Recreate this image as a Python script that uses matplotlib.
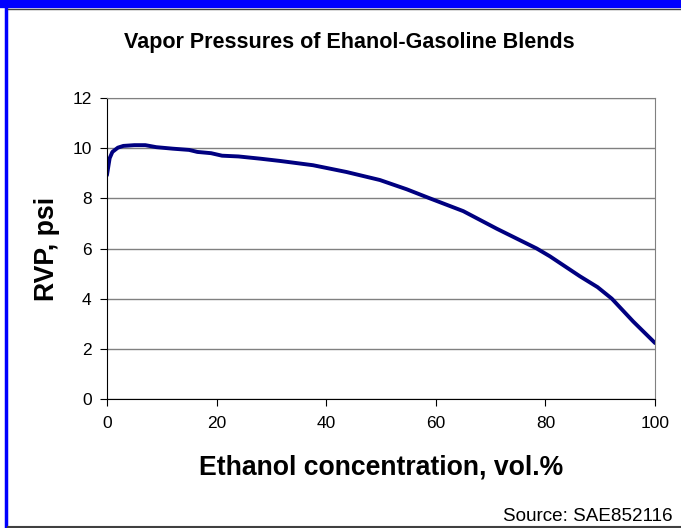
import matplotlib.pyplot as plt
from matplotlib.lines import Line2D

# RVP vs ethanol content
ethanol = [0, 0.5, 1, 2, 3, 5, 7, 9, 12, 15, 16.5, 19, 21, 24, 28, 31.6,
           37.6, 43.7, 49.8, 54.7, 58.9, 65, 71.1, 78.4, 80.8, 86.3, 89.5,
           92.1, 96, 100]
rvp = [8.92, 9.6, 9.85, 10.02, 10.09, 10.12, 10.12, 10.04, 9.98, 9.93, 9.85,
       9.8, 9.7, 9.67, 9.58, 9.49, 9.32, 9.05, 8.73, 8.36, 8.0, 7.49, 6.79,
       6.0, 5.69, 4.89, 4.46, 4.0, 3.09, 2.23]
x_ticks = [0, 20, 40, 60, 80, 100]
y_ticks = [0, 2, 4, 6, 8, 10, 12]

plt.rcParams['font.family'] = ['Liberation Sans', 'DejaVu Sans']

fig = plt.figure(figsize=(6.81, 5.28), dpi=100)
ax = fig.add_axes([0.157, 0.2443, 0.805, 0.5701])

ax.plot(ethanol, rvp, color='#000080', linewidth=2.8, solid_capstyle='round')

ax.set_xlim(0, 100)
ax.set_ylim(0, 12)
ax.set_xticks(x_ticks)
ax.set_yticks(y_ticks)
ax.tick_params(labelsize=12.5, direction='out', length=5, width=0.8, pad=6)
ax.tick_params(axis='x', pad=7)
ax.yaxis.grid(True, color='#808080', linewidth=1)
ax.set_axisbelow(True)
ax.spines['top'].set_color('#808080')
ax.spines['right'].set_color('#808080')

ax.set_xlabel('Ethanol concentration, vol.%', fontsize=19.2, fontweight='bold', labelpad=17)
ax.set_ylabel('RVP, psi', fontsize=19.2, fontweight='bold', labelpad=9)

fig.text(0.5125, 0.92, 'Vapor Pressures of Ehanol-Gasoline Blends',
         ha='center', va='center', fontsize=15.5, fontweight='bold')
fig.text(0.988, 0.021, 'Source: SAE852116', ha='right', va='center', fontsize=13.6)

# slide frame: blue band top and left, dark line at bottom
fig.add_artist(Line2D([0, 1], [0.9925, 0.9925], transform=fig.transFigure,
                      color='#0000ff', linewidth=6))
fig.add_artist(Line2D([0.0095, 0.0095], [0, 1], transform=fig.transFigure,
                      color='#0000ff', linewidth=2.5))
fig.add_artist(Line2D([0.012, 1], [0.983, 0.983], transform=fig.transFigure,
                      color='#404040', linewidth=1))
fig.add_artist(Line2D([0.012, 1], [0.002, 0.002], transform=fig.transFigure,
                      color='#404040', linewidth=1.5))

fig.savefig('out.png', dpi=100)
